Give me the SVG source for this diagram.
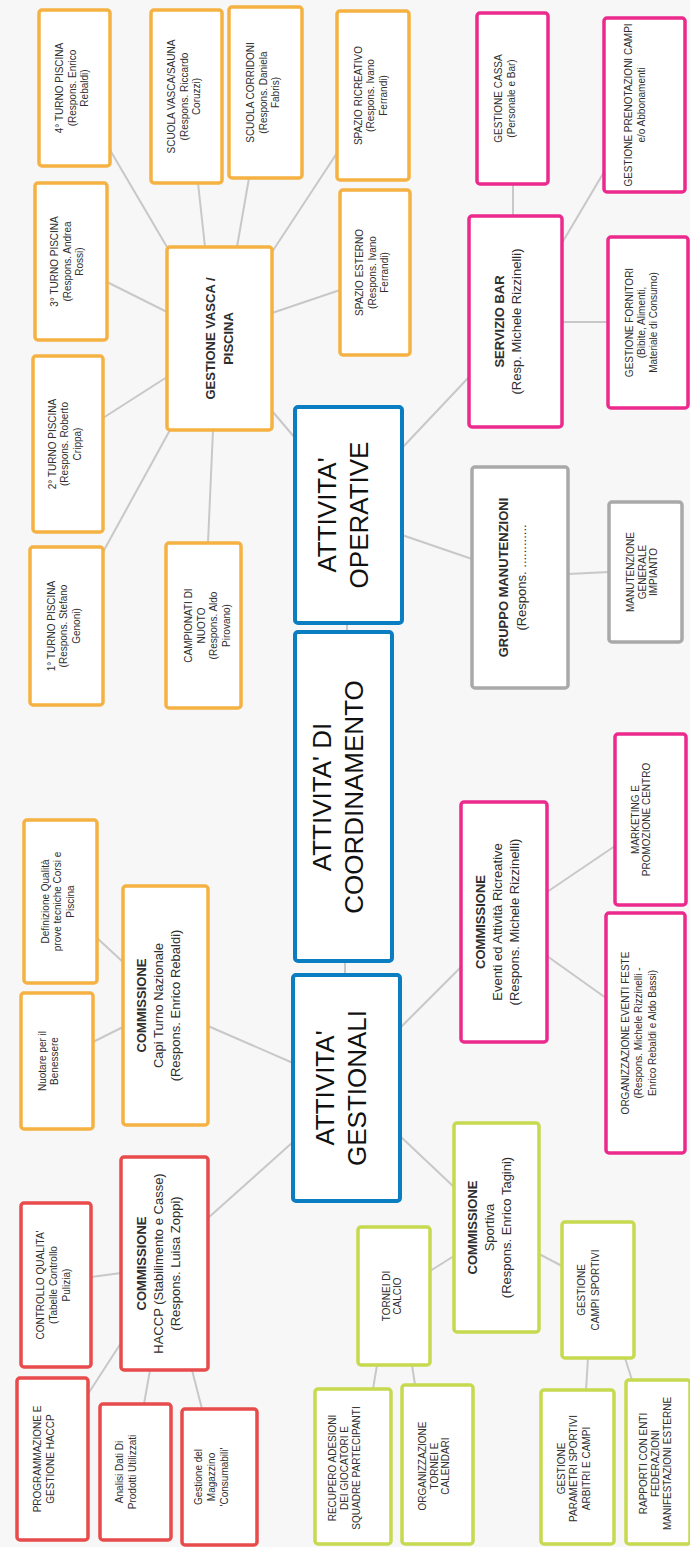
<svg xmlns="http://www.w3.org/2000/svg" width="690" height="1547" viewBox="0 0 690 1547">
<style>
.bg{fill:#f7f7f7}
.bx{fill:#fff;stroke-width:3.5}
.or{stroke:#f5b142}.pk{stroke:#ec2a8e}.gy{stroke:#a9a9a9}.rd{stroke:#e84b4b}.gn{stroke:#c6d94f}.bl{stroke:#0b7dc1;stroke-width:4}
.c line{stroke:#c8c8c8;stroke-width:2}
text{font-family:"Liberation Sans",Arial,sans-serif;text-anchor:middle;fill:#2e2e2e}
.s{font-size:10px}
.m{font-size:13px}
.b{font-weight:bold}
.big{font-size:26px;fill:#111}
</style>
<rect class="bg" x="0" y="0" width="690" height="1547"/>
<g id="connectors" class="c">
<line x1="347" y1="623" x2="347" y2="632"/>
<line x1="345" y1="961" x2="345" y2="975"/>
<line x1="273" y1="412" x2="295" y2="438"/>
<line x1="402" y1="448" x2="469" y2="377"/>
<line x1="402" y1="535" x2="472" y2="559"/>
<line x1="513" y1="184" x2="513" y2="216"/>
<line x1="562" y1="243" x2="604" y2="172"/>
<line x1="562" y1="322" x2="608" y2="322"/>
<line x1="568" y1="574" x2="609" y2="572"/>
<line x1="110" y1="150" x2="167" y2="247"/>
<line x1="198" y1="183" x2="205" y2="247"/>
<line x1="249" y1="178" x2="237" y2="247"/>
<line x1="337" y1="153" x2="272" y2="252"/>
<line x1="107" y1="282" x2="167" y2="312"/>
<line x1="103" y1="418" x2="167" y2="377"/>
<line x1="272" y1="313" x2="340" y2="290"/>
<line x1="170" y1="430" x2="103" y2="552"/>
<line x1="213" y1="430" x2="208" y2="543"/>
<line x1="208" y1="1026" x2="293" y2="1063"/>
<line x1="97" y1="938" x2="123" y2="962"/>
<line x1="93" y1="1042" x2="123" y2="1027"/>
<line x1="400" y1="1028" x2="461" y2="967"/>
<line x1="547" y1="892" x2="615" y2="846"/>
<line x1="547" y1="956" x2="606" y2="998"/>
<line x1="293" y1="1142" x2="208" y2="1218"/>
<line x1="121" y1="1273" x2="91" y2="1277"/>
<line x1="121" y1="1343" x2="88" y2="1394"/>
<line x1="150" y1="1370" x2="144" y2="1404"/>
<line x1="192" y1="1370" x2="202" y2="1409"/>
<line x1="400" y1="1136" x2="454" y2="1187"/>
<line x1="454" y1="1256" x2="430" y2="1271"/>
<line x1="539" y1="1254" x2="562" y2="1266"/>
<line x1="377" y1="1365" x2="373" y2="1389"/>
<line x1="412" y1="1365" x2="415" y2="1385"/>
<line x1="588" y1="1358" x2="586" y2="1390"/>
<line x1="625" y1="1358" x2="632" y2="1380"/>
</g>

<g id="n-operative"><rect class="bx bl" x="295" y="407" width="107" height="216" rx="3"/>
<text class="big" transform="translate(348.5,515) rotate(-90)"><tspan x="0" y="-13">ATTIVITA'</tspan><tspan x="0" y="19">OPERATIVE</tspan></text></g>
<g id="n-coordinamento"><rect class="bx bl" x="295" y="632" width="97" height="329" rx="3"/>
<text class="big" transform="translate(343.5,797) rotate(-90)"><tspan x="0" y="-13">ATTIVITA' DI</tspan><tspan x="0" y="19">COORDINAMENTO</tspan></text></g>
<g id="n-gestionali"><rect class="bx bl" x="293" y="975" width="107" height="226" rx="3"/>
<text class="big" transform="translate(346.5,1088) rotate(-90)"><tspan x="0" y="-13">ATTIVITA'</tspan><tspan x="0" y="19">GESTIONALI</tspan></text></g>

<g id="n-piscina"><rect class="bx or" x="167" y="247" width="105" height="183" rx="3"/>
<text class="m b" transform="translate(219,338.5) rotate(-90)"><tspan x="0" y="-4.5">GESTIONE VASCA /</tspan><tspan x="0" y="13.5">PISCINA</tspan></text></g>
<g id="n-turno4"><rect class="bx or" x="39" y="10" width="71" height="156" rx="3"/>
<text class="s" transform="translate(72,88) rotate(-90)"><tspan x="0" y="-9">4° TURNO PISCINA</tspan><tspan x="0" y="3.5">(Respons. Enrico</tspan><tspan x="0" y="16">Rebaldi)</tspan></text></g>
<g id="n-scuola1"><rect class="bx or" x="151" y="10" width="71" height="173" rx="3"/>
<text class="s" transform="translate(184,96.5) rotate(-90)"><tspan x="0" y="-9">SCUOLA VASCA/SAUNA</tspan><tspan x="0" y="3.5">(Respons. Riccardo</tspan><tspan x="0" y="16">Coruzzi)</tspan></text></g>
<g id="n-scuola2"><rect class="bx or" x="229" y="7" width="73" height="171" rx="3"/>
<text class="s" transform="translate(263,92.5) rotate(-90)"><tspan x="0" y="-9">SCUOLA CORRIDONI</tspan><tspan x="0" y="3.5">(Respons. Daniela</tspan><tspan x="0" y="16">Fabris)</tspan></text></g>
<g id="n-spazio1"><rect class="bx or" x="337" y="11" width="72" height="169" rx="3"/>
<text class="s" transform="translate(370.5,95.5) rotate(-90)"><tspan x="0" y="-9">SPAZIO RICREATIVO</tspan><tspan x="0" y="3.5">(Respons. Ivano</tspan><tspan x="0" y="16">Ferrandi)</tspan></text></g>
<g id="n-spazio2"><rect class="bx or" x="340" y="190" width="70" height="165" rx="3"/>
<text class="s" transform="translate(372,272.5) rotate(-90)"><tspan x="0" y="-9">SPAZIO ESTERNO</tspan><tspan x="0" y="3.5">(Respons. Ivano</tspan><tspan x="0" y="16">Ferrandi)</tspan></text></g>
<g id="n-turno3"><rect class="bx or" x="35" y="183" width="72" height="157" rx="3"/>
<text class="s" transform="translate(67,261.5) rotate(-90)"><tspan x="0" y="-9">3° TURNO PISCINA</tspan><tspan x="0" y="3.5">(Respons. Andrea</tspan><tspan x="0" y="16">Rossi)</tspan></text></g>
<g id="n-turno2"><rect class="bx or" x="33" y="356" width="70" height="176" rx="3"/>
<text class="s" transform="translate(64.5,444) rotate(-90)"><tspan x="0" y="-9">2° TURNO PISCINA</tspan><tspan x="0" y="3.5">(Respons. Roberto</tspan><tspan x="0" y="16">Crippa)</tspan></text></g>
<g id="n-turno1"><rect class="bx or" x="30" y="547" width="73" height="158" rx="3"/>
<text class="s" transform="translate(63.7,626) rotate(-90)"><tspan x="0" y="-9">1° TURNO PISCINA</tspan><tspan x="0" y="3.5">(Respons. Stefano</tspan><tspan x="0" y="16">Genoni)</tspan></text></g>
<g id="n-campionati"><rect class="bx or" x="166" y="543" width="75" height="165" rx="3"/>
<text class="s" transform="translate(207.5,625.5) rotate(-90)"><tspan x="0" y="-15.3">CAMPIONATI DI</tspan><tspan x="0" y="-2.8">NUOTO</tspan><tspan x="0" y="9.8">(Respons. Aldo</tspan><tspan x="0" y="22.3">Pirovano)</tspan></text></g>

<g id="n-cassa"><rect class="bx pk" x="477" y="13" width="71" height="171" rx="3"/>
<text class="s" transform="translate(504.5,98.5) rotate(-90)"><tspan x="0" y="-3">GESTIONE CASSA</tspan><tspan x="0" y="10">(Personale e Bar)</tspan></text></g>
<g id="n-prenotazioni"><rect class="bx pk" x="604" y="18" width="81" height="174" rx="3"/>
<text class="s" transform="translate(635,105) rotate(-90)"><tspan x="0" y="-3">GESTIONE PRENOTAZIONI CAMPI</tspan><tspan x="0" y="10">e/o Abbonamenti</tspan></text></g>
<g id="n-bar"><rect class="bx pk" x="469" y="216" width="93" height="211" rx="3"/>
<text class="m" transform="translate(508,321.5) rotate(-90)"><tspan class="b" x="0" y="-4.2">SERVIZIO BAR</tspan><tspan x="0" y="13.3">(Resp. Michele Rizzinelli)</tspan></text></g>
<g id="n-fornitori"><rect class="bx pk" x="608" y="237" width="80" height="171" rx="3"/>
<text class="s" transform="translate(641,322.5) rotate(-90)"><tspan x="0" y="-8.5">GESTIONE FORNITORI</tspan><tspan x="0" y="3.5">(Bibite, Alimenti,</tspan><tspan x="0" y="15.5">Materiale di Consumo)</tspan></text></g>
<g id="n-manutenzioni"><rect class="bx gy" x="472" y="467" width="96" height="221" rx="3"/>
<text class="m" transform="translate(512,577.5) rotate(-90)"><tspan class="b" x="0" y="-4.5">GRUPPO MANUTENZIONI</tspan><tspan x="0" y="13.5">(Respons. ............</tspan></text></g>
<g id="n-manut-gen"><rect class="bx gy" x="609" y="502" width="73" height="140" rx="3"/>
<text class="s" transform="translate(642,572) rotate(-90)"><tspan x="0" y="-8">MANUTENZIONE</tspan><tspan x="0" y="3.5">GENERALE</tspan><tspan x="0" y="15">IMPIANTO</tspan></text></g>

<g id="n-comm-capi"><rect class="bx or" x="123" y="886" width="85" height="239" rx="3"/>
<text class="m" transform="translate(158.7,1005.5) rotate(-90)"><tspan class="b" x="0" y="-12.5">COMMISSIONE</tspan><tspan x="0" y="4.5">Capi Turno Nazionale</tspan><tspan x="0" y="21.5">(Respons. Enrico Rebaldi)</tspan></text></g>
<g id="n-qualita"><rect class="bx or" x="24" y="820" width="73" height="163" rx="3"/>
<text class="s" transform="translate(57.5,901.5) rotate(-90)"><tspan x="0" y="-9">Definizione Qualità</tspan><tspan x="0" y="3.5">prove tecniche Corsi e</tspan><tspan x="0" y="16">Piscina</tspan></text></g>
<g id="n-benessere"><rect class="bx or" x="21" y="993" width="72" height="136" rx="3"/>
<text class="s" transform="translate(48.6,1061) rotate(-90)"><tspan x="0" y="-2.5">Nuotare per il</tspan><tspan x="0" y="9.5">Benessere</tspan></text></g>

<g id="n-comm-eventi"><rect class="bx pk" x="461" y="802" width="86" height="240" rx="3"/>
<text class="m" transform="translate(497,922) rotate(-90)"><tspan class="b" x="0" y="-12.5">COMMISSIONE</tspan><tspan x="0" y="4.5">Eventi ed Attività Ricreative</tspan><tspan x="0" y="21.5">(Respons. Michele Rizzinelli)</tspan></text></g>
<g id="n-marketing"><rect class="bx pk" x="615" y="734" width="71" height="171" rx="3"/>
<text class="s" transform="translate(641,819.5) rotate(-90)"><tspan x="0" y="-2">MARKETING E</tspan><tspan x="0" y="9">PROMOZIONE CENTRO</tspan></text></g>
<g id="n-org-eventi"><rect class="bx pk" x="606" y="913" width="79" height="240" rx="3"/>
<text class="s" transform="translate(638.5,1033) rotate(-90)"><tspan x="0" y="-10">ORGANIZZAZIONE EVENTI FESTE</tspan><tspan x="0" y="3.5">(Respons. Michele Rizzinelli -</tspan><tspan x="0" y="17">Enrico Rebaldi e Aldo Bassi)</tspan></text></g>

<g id="n-comm-haccp"><rect class="bx rd" x="121" y="1157" width="87" height="213" rx="3"/>
<text class="m" transform="translate(158,1263.5) rotate(-90)"><tspan class="b" x="0" y="-12.5">COMMISSIONE</tspan><tspan x="0" y="4.5">HACCP (Stabilimento e Casse)</tspan><tspan x="0" y="21.5">(Respons. Luisa Zoppi)</tspan></text></g>
<g id="n-controllo"><rect class="bx rd" x="21" y="1203" width="70" height="164" rx="3"/>
<text class="s" transform="translate(53,1285) rotate(-90)"><tspan x="0" y="-9.5">CONTROLLO QUALITA'</tspan><tspan x="0" y="3.5">(Tabelle Controllo</tspan><tspan x="0" y="16.5">Pulizia)</tspan></text></g>
<g id="n-programmazione"><rect class="bx rd" x="17" y="1378" width="71" height="162" rx="3"/>
<text class="s" transform="translate(44,1459) rotate(-90)"><tspan x="0" y="-3">PROGRAMMAZIONE E</tspan><tspan x="0" y="10">GESTIONE HACCP</tspan></text></g>
<g id="n-analisi"><rect class="bx rd" x="100" y="1404" width="71" height="136" rx="3"/>
<text class="s" transform="translate(126,1472) rotate(-90)"><tspan x="0" y="-2.8">Analisi Dati Di</tspan><tspan x="0" y="9.8">Prodotti Utilizzati</tspan></text></g>
<g id="n-magazzino"><rect class="bx rd" x="182" y="1409" width="75" height="136" rx="3"/>
<text class="s" transform="translate(211,1477) rotate(-90)"><tspan x="0" y="-9.5">Gestione del</tspan><tspan x="0" y="3.5">Magazzino</tspan><tspan x="0" y="16.5">'Consumabili'</tspan></text></g>

<g id="n-comm-sportiva"><rect class="bx gn" x="454" y="1123" width="85" height="209" rx="3"/>
<text class="m" transform="translate(489,1227.5) rotate(-90)"><tspan class="b" x="0" y="-12.5">COMMISSIONE</tspan><tspan x="0" y="4.5">Sportiva</tspan><tspan x="0" y="21.5">(Respons. Enrico Tagini)</tspan></text></g>
<g id="n-tornei"><rect class="bx gn" x="358" y="1227" width="72" height="138" rx="3"/>
<text class="s" transform="translate(392,1296) rotate(-90)"><tspan x="0" y="-2.3">TORNEI DI</tspan><tspan x="0" y="9.3">CALCIO</tspan></text></g>
<g id="n-campi"><rect class="bx gn" x="562" y="1222" width="72" height="136" rx="3"/>
<text class="s" transform="translate(588,1290) rotate(-90)"><tspan x="0" y="-3.5">GESTIONE</tspan><tspan x="0" y="10.5">CAMPI SPORTIVI</tspan></text></g>
<g id="n-adesioni"><rect class="bx gn" x="315" y="1389" width="76" height="155" rx="3"/>
<text class="s" transform="translate(344,1468) rotate(-90)"><tspan x="0" y="-8.5">RECUPERO ADESIONI</tspan><tspan x="0" y="3.5">DEI GIOCATORI E</tspan><tspan x="0" y="15.5">SQUADRE PARTECIPANTI</tspan></text></g>
<g id="n-organizzazione"><rect class="bx gn" x="402" y="1385" width="71" height="159" rx="3"/>
<text class="s" transform="translate(434,1466) rotate(-90)"><tspan x="0" y="-8.2">ORGANIZZAZIONE</tspan><tspan x="0" y="3.5">TORNEI E</tspan><tspan x="0" y="15.2">CALENDARI</tspan></text></g>
<g id="n-parametri"><rect class="bx gn" x="541" y="1390" width="73" height="154" rx="3"/>
<text class="s" transform="translate(573.5,1468.5) rotate(-90)"><tspan x="0" y="-9">GESTIONE</tspan><tspan x="0" y="3.5">PARAMETRI SPORTIVI</tspan><tspan x="0" y="16">ARBITRI E CAMPI</tspan></text></g>
<g id="n-rapporti"><rect class="bx gn" x="626" y="1380" width="64" height="164" rx="3"/>
<text class="s" transform="translate(655,1463.5) rotate(-90)"><tspan x="0" y="-8.5">RAPPORTI CON ENTI</tspan><tspan x="0" y="3.5">FEDERAZIONI</tspan><tspan x="0" y="15.5">MANIFESTAZIONI ESTERNE</tspan></text></g>
</svg>
